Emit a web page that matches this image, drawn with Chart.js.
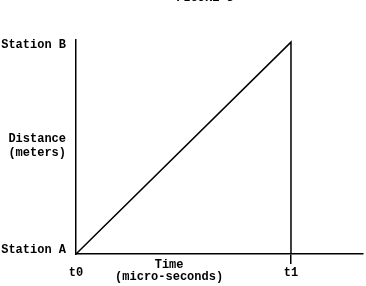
<!DOCTYPE html>
<html>
<head>
<meta charset="utf-8">
<script src="https://cdn.jsdelivr.net/npm/chart.js@4/dist/chart.umd.min.js"></script>
<style>
  html, body { margin: 0; padding: 0; background: #fff; }
  #c { display: block; }
</style>
</head>
<body>
<canvas id="c" width="366" height="286"></canvas>
<script>
// ---- data ----
const figureTitle = 'FIGURE 3';
const timeTickValues = [0, 1];
const timeTickLabels = ['t0', 't1'];
const distanceTickValues = [0.02, 0.51, 0.985];
const distanceTickLabels = ['Station A', ['Distance', '(meters)'], 'Station B'];
const pathTime = [0, 1, 1];
const pathDistance = [0, 1, 0];
const xAxisTitleLines = ['Time', '(micro-seconds)'];
const xAxisTitleAt = 0.433;
const xMax = 1.335;
const yMax = 1.01;

const FONT = "'Liberation Mono', 'Courier New', monospace";

const extraText = {
  id: 'extraText',
  afterDraw(chart) {
    const ctx = chart.ctx;
    const xs = chart.scales.x;
    const area = chart.chartArea;
    ctx.save();
    ctx.fillStyle = '#000';
    ctx.font = 'bold 12px ' + FONT;
    ctx.textAlign = 'center';
    ctx.textBaseline = 'middle';
    const cx = xs.getPixelForValue(xAxisTitleAt);
    ctx.fillText(xAxisTitleLines[0], cx, area.bottom + 11);
    ctx.fillText(xAxisTitleLines[1], cx, area.bottom + 23);
    ctx.textBaseline = 'alphabetic';
    ctx.fillText(figureTitle, 205, 1);
    ctx.restore();
  }
};

new Chart(document.getElementById('c'), {
  type: 'line',
  data: {
    datasets: [{
      data: pathTime.map((t, i) => ({ x: t, y: pathDistance[i] })),
      borderColor: '#000',
      borderWidth: 1.5,
      pointRadius: 0,
      tension: 0,
      fill: false,
      clip: false
    }]
  },
  options: {
    responsive: false,
    animation: false,
    devicePixelRatio: 1,
    layout: { padding: { top: 40, right: 3, left: 0, bottom: 0 } },
    plugins: { legend: { display: false }, tooltip: { enabled: false }, title: { display: false } },
    scales: {
      x: {
        type: 'linear',
        min: 0,
        max: xMax,
        afterBuildTicks: s => { s.ticks = timeTickValues.map(v => ({ value: v })); },
        afterFit: s => { s.height = 32; },
        border: { display: true, color: '#000', width: 1.5 },
        grid: {
          display: true,
          drawOnChartArea: false,
          drawTicks: true,
          tickLength: 10,
          lineWidth: 1.5,
          color: c => (c.tick && c.tick.value === timeTickValues[1]) ? '#000' : 'rgba(0,0,0,0)'
        },
        ticks: {
          autoSkip: false,
          maxRotation: 0,
          padding: 2,
          color: '#000',
          font: { family: FONT, size: 12, weight: 'bold' },
          callback: (v, i) => timeTickLabels[i]
        }
      },
      y: {
        type: 'linear',
        min: 0,
        max: yMax,
        afterBuildTicks: s => { s.ticks = distanceTickValues.map(v => ({ value: v })); },
        afterFit: s => { s.width = 76; },
        border: { display: true, color: '#000', width: 1.5 },
        grid: { display: true, drawOnChartArea: false, drawTicks: false, color: 'rgba(0,0,0,0)' },
        ticks: {
          autoSkip: false,
          padding: 10,
          color: '#000',
          font: { family: FONT, size: 12, weight: 'bold', lineHeight: 1.17 },
          callback: (v, i) => distanceTickLabels[i]
        }
      }
    }
  },
  plugins: [extraText]
});
</script>
</body>
</html>
